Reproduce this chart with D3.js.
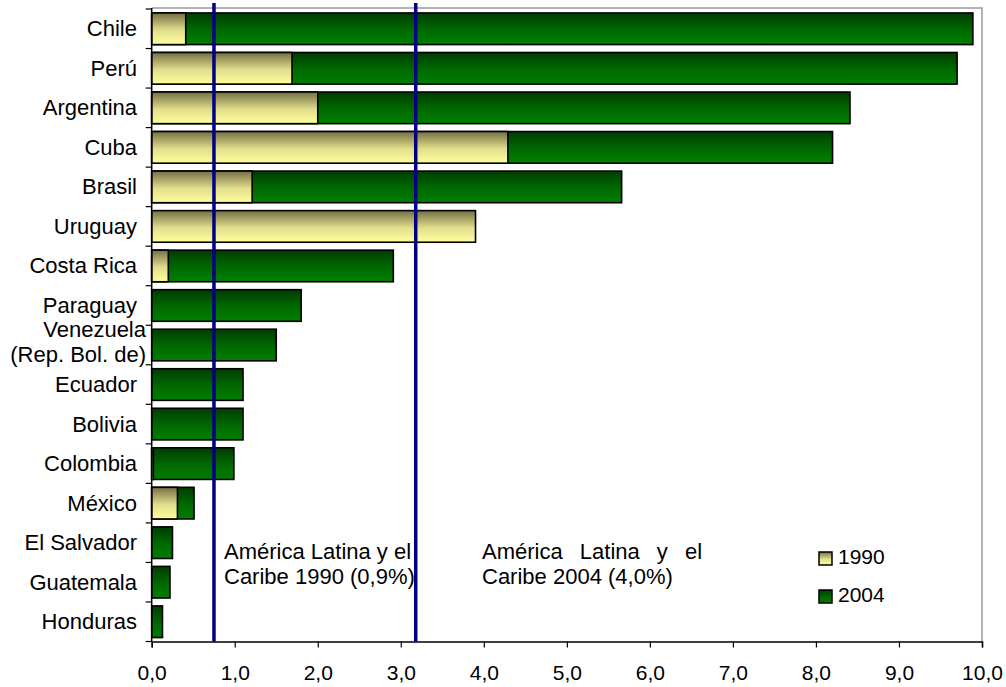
<!DOCTYPE html>
<html>
<head>
<meta charset="utf-8">
<script src="https://cdn.jsdelivr.net/npm/d3@7"></script>
<style>
  body { margin: 0; background: #fff; }
  text { font-family: "Liberation Sans", Arial, sans-serif; font-size: 21px; fill: #000; }
  .label, .note { font-size: 22px; }
</style>
</head>
<body>
<script>
//data
var countries = ["Chile", "Perú", "Argentina", "Cuba", "Brasil", "Uruguay", "Costa Rica", "Paraguay",
    "Venezuela (Rep. Bol. de)", "Ecuador", "Bolivia", "Colombia", "México", "El Salvador", "Guatemala", "Honduras"];
var values1990 = [0.41, 1.69, 2.0, 4.29, 1.21, 3.9, 0.2, 0, 0, 0, 0, 0.02, 0.31, 0, 0, 0];
var values2004 = [9.89, 9.7, 8.41, 8.2, 5.66, 0, 2.91, 1.8, 1.5, 1.1, 1.1, 0.99, 0.51, 0.25, 0.22, 0.13];
var xTicks = [0, 1, 2, 3, 4, 5, 6, 7, 8, 9, 10];
var averageLines = [0.75, 3.18];
var averageLabels = [["América Latina y el", "Caribe 1990 (0,9%)"], ["América Latina y el", "Caribe 2004 (4,0%)"]];
var seriesNames = ["1990", "2004"];

var width = 1006, height = 687;
var margin = {top: 9, right: 24, bottom: 45.5, left: 151.7};

var svg = d3.select("body").append("svg")
    .attr("width", width)
    .attr("height", height);

//gradients for the bars
var defs = svg.append("defs");
var gradYellow = defs.append("linearGradient").attr("id", "gYellow")
    .attr("x1", 0).attr("y1", 0).attr("x2", 0).attr("y2", 1);
gradYellow.append("stop").attr("offset", "0%").attr("stop-color", "#747044");
gradYellow.append("stop").attr("offset", "55%").attr("stop-color", "#e2de8c");
gradYellow.append("stop").attr("offset", "100%").attr("stop-color", "#ffff9c");
var gradGreen = defs.append("linearGradient").attr("id", "gGreen")
    .attr("x1", 0).attr("y1", 0).attr("x2", 0).attr("y2", 1);
gradGreen.append("stop").attr("offset", "0%").attr("stop-color", "#003c00");
gradGreen.append("stop").attr("offset", "55%").attr("stop-color", "#006a00");
gradGreen.append("stop").attr("offset", "100%").attr("stop-color", "#007f00");
var fills = ["url(#gYellow)", "url(#gGreen)"];

//scales
var x = d3.scaleLinear()
    .domain([0, 10])
    .range([margin.left, width - margin.right]);

var y = d3.scaleBand()
    .domain(countries)
    .range([margin.top, height - margin.bottom])
    .paddingInner(0.2)
    .paddingOuter(0.1);

var plotTop = margin.top - 1, plotBottom = height - margin.bottom;

//grey frame top and right
svg.append("path")
    .attr("d", "M" + x(0) + "," + plotTop + "H" + x(10) + "V" + plotBottom)
    .attr("fill", "none")
    .attr("stroke", "#9a9a9a")
    .attr("stroke-width", 1.5);

//bars: 2004 behind, 1990 in front
var rows = countries.map(function(c, i) {
    return {country: c, v1990: values1990[i], v2004: values2004[i]};
});

svg.append("g").selectAll("rect")
    .data(rows.filter(function(d) { return d.v2004 > 0; }))
    .enter().append("rect")
    .attr("x", x(0))
    .attr("y", function(d) { return y(d.country); })
    .attr("width", function(d) { return x(d.v2004) - x(0); })
    .attr("height", y.bandwidth())
    .attr("fill", fills[1])
    .attr("stroke", "#000")
    .attr("stroke-width", 1.6);

svg.append("g").selectAll("rect")
    .data(rows.filter(function(d) { return d.v1990 > 0; }))
    .enter().append("rect")
    .attr("x", x(0))
    .attr("y", function(d) { return y(d.country); })
    .attr("width", function(d) { return x(d.v1990) - x(0); })
    .attr("height", y.bandwidth())
    .attr("fill", fills[0])
    .attr("stroke", "#000")
    .attr("stroke-width", 1.6);

//average lines
svg.append("g").selectAll("line")
    .data(averageLines)
    .enter().append("line")
    .attr("x1", function(d) { return x(d); })
    .attr("x2", function(d) { return x(d); })
    .attr("y1", 3)
    .attr("y2", plotBottom)
    .attr("stroke", "#000080")
    .attr("stroke-width", 3.5);

//x axis
var xAxis = svg.append("g")
    .attr("transform", "translate(0," + plotBottom + ")")
    .call(d3.axisBottom(x)
        .tickValues(xTicks)
        .tickSize(6)
        .tickPadding(18)
        .tickFormat(function(d) { return d.toFixed(1).replace(".", ","); }));
xAxis.select(".domain").attr("stroke", "#000").attr("stroke-width", 1.5);
xAxis.selectAll(".tick line").attr("stroke", "#000").attr("stroke-width", 1.2);
xAxis.selectAll("text").attr("font-size", null).attr("font-family", null);

//y axis: line and ticks at band borders
svg.append("line")
    .attr("x1", x(0)).attr("x2", x(0))
    .attr("y1", plotTop).attr("y2", plotBottom)
    .attr("stroke", "#000").attr("stroke-width", 1.5);

svg.append("g").selectAll("line")
    .data(d3.range(countries.length + 1))
    .enter().append("line")
    .attr("x1", x(0) - 6).attr("x2", x(0))
    .attr("y1", function(i) { return margin.top + i * y.step(); })
    .attr("y2", function(i) { return margin.top + i * y.step(); })
    .attr("stroke", "#000").attr("stroke-width", 1.2);

//country labels
svg.append("g").selectAll("text")
    .data(countries)
    .enter().append("text")
    .attr("class", "label")
    .attr("text-anchor", "end")
    .attr("x", 137)
    .attr("y", function(d) { return y(d) + y.bandwidth() / 2 + 7.5; })
    .each(function(d) {
        var t = d3.select(this);
        if (d.indexOf("Venezuela") == 0) {
            //two lines, a bit tighter than normal
            t.attr("x", 146).attr("y", null);
            var cy = y(d) + y.bandwidth() / 2;
            t.append("tspan").attr("x", 146).attr("y", cy - 8).text("Venezuela");
            t.append("tspan").attr("x", 146).attr("y", cy + 17).text("(Rep. Bol. de)");
        } else {
            t.text(d);
        }
    });

//annotation texts
var noteX = [224, 482];
averageLabels.forEach(function(lines, i) {
    var t = svg.append("text").attr("class", "note").attr("x", noteX[i]).attr("y", 559);
    t.append("tspan").attr("x", noteX[i]).attr("y", 559)
        .attr("word-spacing", i == 1 ? "11px" : null)
        .text(lines[0]);
    t.append("tspan").attr("x", noteX[i]).attr("y", 584).text(lines[1]);
});

//legend
var legend = svg.append("g").selectAll("g")
    .data(seriesNames)
    .enter().append("g")
    .attr("transform", function(d, i) { return "translate(819," + (552 + i * 38) + ")"; });

legend.append("rect")
    .attr("width", 13)
    .attr("height", 13)
    .attr("fill", function(d, i) { return fills[i]; })
    .attr("stroke", "#000")
    .attr("stroke-width", 1.5);

legend.append("text")
    .attr("x", 19)
    .attr("y", 12)
    .text(function(d) { return d; });
</script>
</body>
</html>
